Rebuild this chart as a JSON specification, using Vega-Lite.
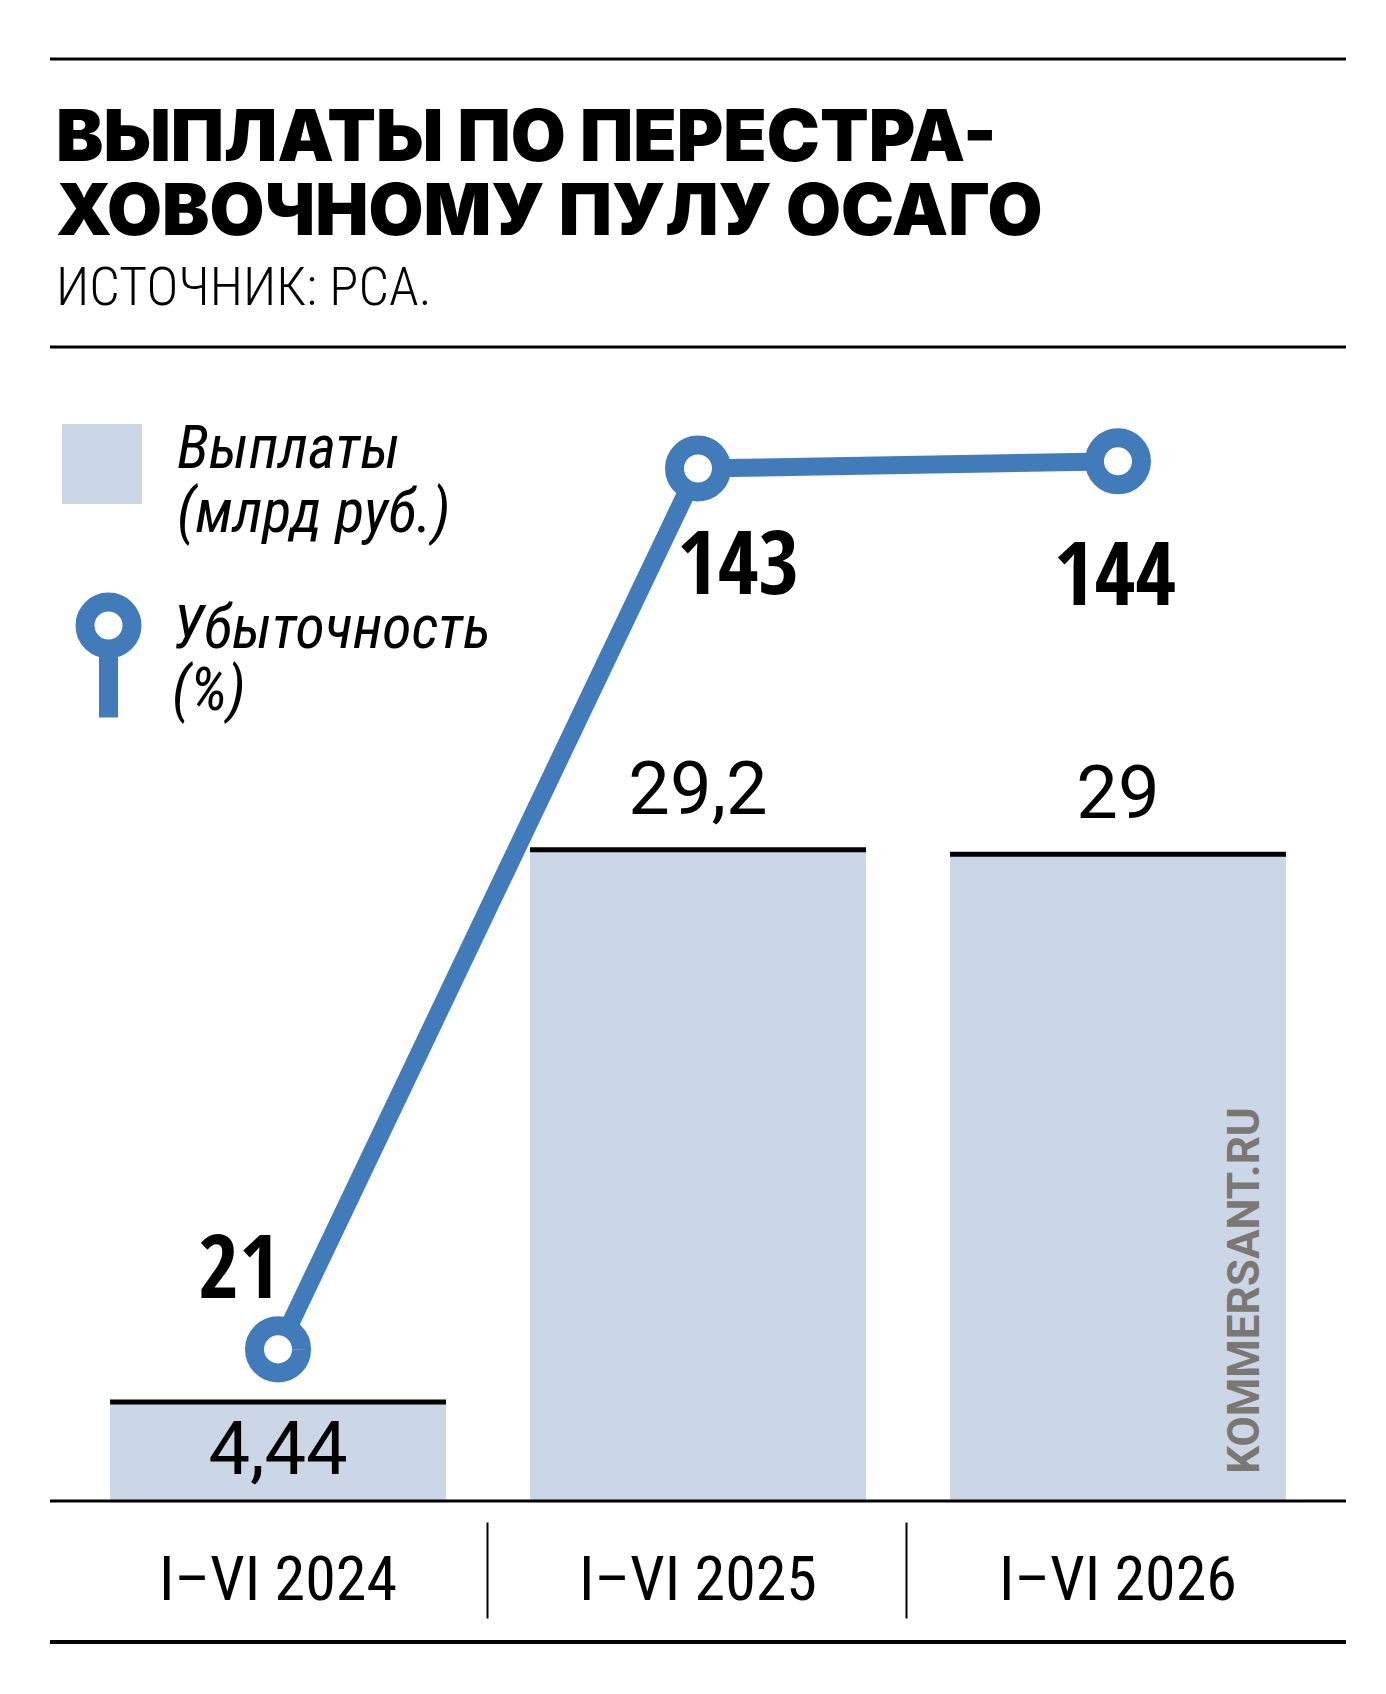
{
  "$schema": "https://vega.github.io/schema/vega-lite/v6.json",
  "autosize": {"type": "none"},
  "padding": {"left": 50, "top": 380, "right": 40, "bottom": 193},
  "width": 1296,
  "height": 1121,
  "background": "white",
  "config": {
    "view": {"stroke": null},
    "locale": {"number": {"decimal": ",", "thousands": " ", "grouping": [3], "currency": ["", " ₽"]}}
  },
  "title": {
    "text": ["ВЫПЛАТЫ ПО ПЕРЕСТРА-", "ХОВОЧНОМУ ПУЛУ ОСАГО"],
    "subtitle": "ИСТОЧНИК: РСА.",
    "anchor": "start",
    "frame": "group",
    "dx": 6,
    "offset": -259,
    "font": "Inter",
    "fontWeight": 900,
    "fontSize": 71,
    "lineHeight": 74,
    "color": "black",
    "subtitleFont": "Roboto Condensed",
    "subtitleFontWeight": 300,
    "subtitleFontSize": 54,
    "subtitleColor": "black",
    "subtitlePadding": 12
  },
  "data": {"values": [
    {"period": "I–VI 2024", "pay": 4.44, "loss": 21},
    {"period": "I–VI 2025", "pay": 29.2, "loss": 143},
    {"period": "I–VI 2026", "pay": 29, "loss": 144}
  ]},
  "layer": [
    {
      "layer": [
        {
          "data": {"values": [{}]},
          "mark": {"type": "rule", "strokeWidth": 3, "color": "black"},
          "encoding": {"y": {"datum": 64.66, "type": "quantitative", "scale": {"domain": [0, 50.27], "nice": false}, "axis": null}}
        },
        {
          "data": {"values": [{}]},
          "mark": {"type": "rule", "strokeWidth": 3, "color": "black"},
          "encoding": {"y": {"datum": 51.75, "type": "quantitative"}}
        },
        {
          "data": {"values": [{}]},
          "mark": {"type": "rule", "strokeWidth": 4, "color": "black"},
          "encoding": {"y": {"datum": -6.32, "type": "quantitative"}}
        },
        {
          "mark": {"type": "bar"},
          "encoding": {
            "x": {
              "field": "period",
              "type": "nominal",
              "sort": null,
              "scale": {"paddingInner": 0.2, "paddingOuter": 0.143},
              "axis": {
                "title": null,
                "orient": "bottom",
                "offset": 21,
                "domain": false,
                "grid": false,
                "ticks": true,
                "bandPosition": -0.128,
                "tickSize": 96,
                "tickWidth": 2,
                "tickColor": "black",
                "tickOpacity": {"condition": {"test": "datum.value === 'I–VI 2024'", "value": 0}, "value": 1},
                "labelAngle": 0,
                "labelFont": "Roboto Condensed",
                "labelFontSize": 62,
                "labelColor": "black",
                "labelBaseline": "alphabetic",
                "labelPadding": -19,
                "labelLimit": 0
              }
            },
            "y": {"field": "pay", "type": "quantitative"},
            "fill": {
              "datum": "Выплаты",
              "type": "nominal",
              "scale": {"range": ["#cbd7e6"]},
              "legend": {
                "orient": "none",
                "legendX": 12,
                "legendY": 44,
                "title": null,
                "padding": 0,
                "symbolType": "square",
                "symbolSize": 6400,
                "symbolStrokeWidth": 0,
                "labelOffset": 35,
                "labelFont": "Roboto Condensed",
                "labelFontStyle": "italic",
                "labelFontSize": 60,
                "labelColor": "black",
                "labelBaseline": "alphabetic",
                "labelLimit": 0,
                "labelExpr": "['Выплаты', '(млрд руб.)']",
                "encode": {"labels": {"update": {"dy": {"value": 4}, "lineHeight": {"value": 64}}}}
              }
            }
          }
        },
        {
          "mark": {"type": "tick", "orient": "horizontal", "thickness": 5, "size": 336, "color": "black", "opacity": 1},
          "encoding": {
            "x": {"field": "period", "type": "nominal", "sort": null},
            "y": {"field": "pay", "type": "quantitative"}
          }
        },
        {
          "data": {"values": [{}]},
          "mark": {"type": "rule", "strokeWidth": 3, "color": "black"},
          "encoding": {"y": {"datum": 0, "type": "quantitative"}}
        },
        {
          "transform": [{"filter": "datum.pay > 10"}],
          "mark": {"type": "text", "font": "Roboto", "fontSize": 74, "baseline": "alphabetic", "dy": -36, "color": "black"},
          "encoding": {
            "x": {"field": "period", "type": "nominal", "sort": null},
            "y": {"field": "pay", "type": "quantitative"},
            "text": {"field": "pay", "type": "quantitative", "format": ".3~g"}
          }
        },
        {
          "transform": [{"filter": "datum.pay < 10"}],
          "mark": {"type": "text", "font": "Roboto", "fontSize": 74, "baseline": "alphabetic", "dy": 72, "color": "black"},
          "encoding": {
            "x": {"field": "period", "type": "nominal", "sort": null},
            "y": {"field": "pay", "type": "quantitative"},
            "text": {"field": "pay", "type": "quantitative", "format": ".3~g"}
          }
        }
      ]
    },
    {
      "layer": [
        {
          "mark": {"type": "line", "strokeWidth": 18},
          "encoding": {
            "x": {"field": "period", "type": "nominal", "sort": null},
            "y": {
              "field": "loss",
              "type": "quantitative",
              "scale": {"domain": [0, 155.26], "nice": false},
              "axis": {
                "orient": "right",
                "zindex": 2,
                "domain": false,
                "ticks": false,
                "labels": false,
                "grid": false,
                "title": "KOMMERSANT.RU",
                "titleAngle": 270,
                "titleX": -88,
                "titleY": 910,
                "titleAlign": "center",
                "titleBaseline": "alphabetic",
                "titleFont": "Roboto",
                "titleFontWeight": "bold",
                "titleFontSize": 44,
                "titleColor": "#7b7874"
              }
            },
            "stroke": {
              "datum": "Убыточность",
              "type": "nominal",
              "scale": {"range": ["#417bba"]},
              "legend": {
                "orient": "none",
                "legendX": -1,
                "legendY": 186,
                "title": null,
                "padding": 0,
                "symbolType": "M0,-0.47A0.47,0.47,0,1,1,0,0.47A0.47,0.47,0,1,1,0,-0.47ZM0,0.47L0,1.84",
                "symbolSize": 10000,
                "symbolStrokeWidth": 19,
                "symbolFillColor": "white",
                "labelOffset": 4,
                "labelFont": "Roboto Condensed",
                "labelFontStyle": "italic",
                "labelFontSize": 60,
                "labelColor": "black",
                "labelBaseline": "alphabetic",
                "labelLimit": 0,
                "labelExpr": "['Убыточность', '(%)']",
                "encode": {"labels": {"update": {"dy": {"value": 22}, "lineHeight": {"value": 62}}}}
              }
            }
          }
        },
        {
          "mark": {"type": "point", "shape": "circle", "filled": true, "fill": "white", "size": 2209, "strokeWidth": 19, "opacity": 1},
          "encoding": {
            "x": {"field": "period", "type": "nominal", "sort": null},
            "y": {"field": "loss", "type": "quantitative"},
            "stroke": {"datum": "Убыточность", "type": "nominal"}
          }
        },
        {
          "transform": [{"filter": "datum.loss < 50"}],
          "mark": {"type": "text", "font": "Open Sans Condensed", "fontWeight": "bold", "fontSize": 88, "baseline": "alphabetic", "dx": -39, "dy": -51, "color": "black"},
          "encoding": {
            "x": {"field": "period", "type": "nominal", "sort": null},
            "y": {"field": "loss", "type": "quantitative"},
            "text": {"field": "loss", "type": "quantitative"}
          }
        },
        {
          "transform": [{"filter": "datum.loss == 143"}],
          "mark": {"type": "text", "font": "Open Sans Condensed", "fontWeight": "bold", "fontSize": 88, "baseline": "alphabetic", "dx": 40, "dy": 125, "color": "black"},
          "encoding": {
            "x": {"field": "period", "type": "nominal", "sort": null},
            "y": {"field": "loss", "type": "quantitative"},
            "text": {"field": "loss", "type": "quantitative"}
          }
        },
        {
          "transform": [{"filter": "datum.loss == 144"}],
          "mark": {"type": "text", "font": "Open Sans Condensed", "fontWeight": "bold", "fontSize": 88, "baseline": "alphabetic", "dx": -3, "dy": 144, "color": "black"},
          "encoding": {
            "x": {"field": "period", "type": "nominal", "sort": null},
            "y": {"field": "loss", "type": "quantitative"},
            "text": {"field": "loss", "type": "quantitative"}
          }
        }
      ]
    }
  ],
  "resolve": {"scale": {"y": "independent"}}
}
